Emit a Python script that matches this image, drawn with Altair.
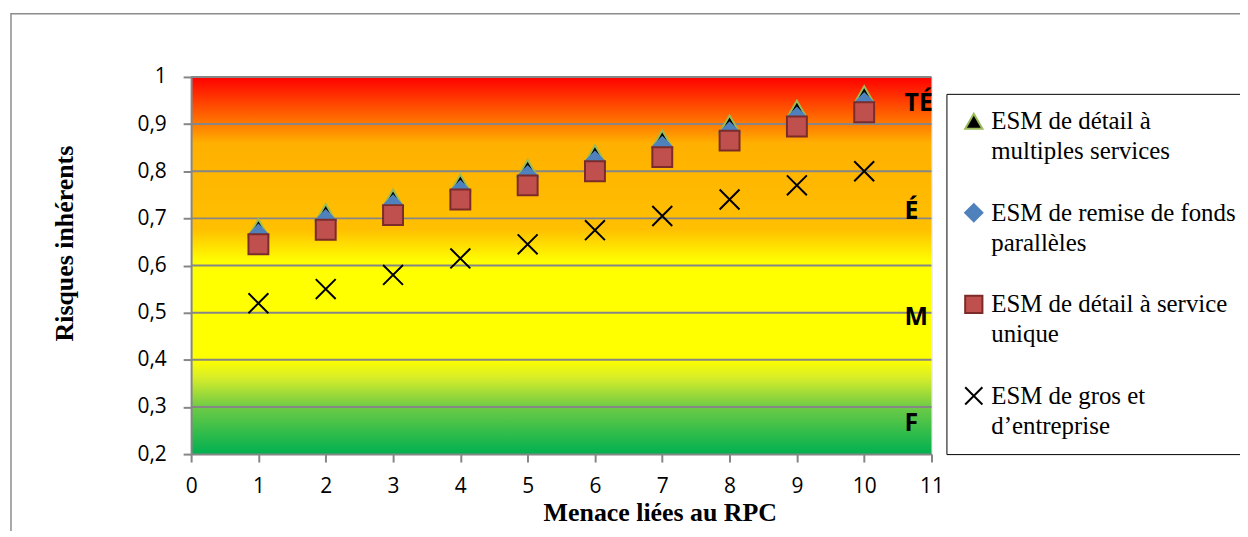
import altair as alt
import pandas as pd

# ---------------- data ----------------
x_vals = [1, 2, 3, 4, 5, 6, 7, 8, 9, 10]
series_names = [
    "ESM de détail à\nmultiples services",
    "ESM de remise de fonds\nparallèles",
    "ESM de détail à service\nunique",
    "ESM de gros et\nd’entreprise",
]
multi_services = [0.680, 0.712, 0.743, 0.775, 0.806, 0.837, 0.868, 0.900, 0.931, 0.962]
remise_fonds = [0.665, 0.696, 0.727, 0.758, 0.789, 0.820, 0.851, 0.882, 0.913, 0.944]
service_unique = [0.645, 0.676, 0.707, 0.740, 0.770, 0.800, 0.830, 0.865, 0.895, 0.925]
gros_entreprise = [0.520, 0.550, 0.580, 0.615, 0.645, 0.675, 0.705, 0.740, 0.770, 0.800]

x_ticks = [0, 1, 2, 3, 4, 5, 6, 7, 8, 9, 10, 11]
y_ticks = [0.2, 0.3, 0.4, 0.5, 0.6, 0.7, 0.8, 0.9, 1.0]
grid_values = [0.3, 0.4, 0.5, 0.6, 0.7, 0.8, 0.9, 1.0]

zone_labels = ["TÉ", "É", "M", "F"]
zone_y = [0.945, 0.715, 0.49, 0.265]
zone_x = [10.6, 10.6, 10.6, 10.6]

x_title = "Menace liées au RPC"
y_title = "Risques inhérents"

# ---------------- tables ----------------
rows = []
for idx, (name, vals) in enumerate(zip(series_names, [multi_services, remise_fonds, service_unique, gros_entreprise])):
    for xv, yv in zip(x_vals, vals):
        rows.append({"x": xv, "y": yv, "series": name, "idx": idx})
points_df = pd.DataFrame(rows)
grid_df = pd.DataFrame({"v": grid_values})
zones_df = pd.DataFrame({"label": zone_labels, "x": zone_x, "y": zone_y})

# ---------------- styles ----------------
GRAY = "#868686"
shape_range = ["triangle-up", "diamond", "square", "M-1,-1L1,1M-1,1L1,-1"]
fill_range = ["#000000", "#4F81BD", "#C0504D", "transparent"]
stroke_range = ["#9BBB59", "#4F81BD", "#7B2C2A", "#000000"]

gradient = alt.LinearGradient(
    gradient="linear",
    x1=0, x2=0, y1=0, y2=1,
    stops=[
        alt.GradientStop(offset=0.0, color="#FF0000"),
        alt.GradientStop(offset=0.125, color="#FF7A00"),
        alt.GradientStop(offset=0.175, color="#FFB000"),
        alt.GradientStop(offset=0.405, color="#FFC000"),
        alt.GradientStop(offset=0.49, color="#FFFF00"),
        alt.GradientStop(offset=0.75, color="#FFFF00"),
        alt.GradientStop(offset=0.80, color="#D4EC2A"),
        alt.GradientStop(offset=0.875, color="#6ECB45"),
        alt.GradientStop(offset=1.0, color="#00B050"),
    ],
)

x_scale = alt.Scale(domain=[0, 11], nice=False, zero=False)
y_scale = alt.Scale(domain=[0.2, 1.0], nice=False, zero=False)

x_axis = alt.Axis(
    values=x_ticks, format="d", grid=False, zindex=1,
    labelFont="Open Sans", labelFontSize=21, labelColor="black", labelPadding=14,
    labelFlush=False, labelOverlap=False,
    tickSize=8, tickColor=GRAY, tickWidth=2,
    domainColor=GRAY, domainWidth=2,
    title=x_title, titleFont="Liberation Serif", titleFontSize=26, titleFontWeight="bold",
    titleColor="black", titleX=471, titleY=67, titleAlign="center", titleBaseline="alphabetic",
)
y_axis = alt.Axis(
    values=y_ticks, grid=False, zindex=1,
    labelExpr="replace(format(datum.value, '.1~f'), '.', ',')",
    labelFont="Open Sans", labelFontSize=21, labelColor="black", labelPadding=17,
    labelFlush=False, labelOverlap=False,
    tickSize=8, tickColor=GRAY, tickWidth=2,
    domainColor=GRAY, domainWidth=2,
    title=y_title, titleFont="Liberation Serif", titleFontSize=26, titleFontWeight="bold",
    titleColor="black", titleX=-127, titleY=167, titleAngle=270,
    titleAlign="center", titleBaseline="middle",
)

legend = alt.Legend(
    title=None, orient="none", legendX=759, legendY=17,
    fillColor="white", strokeColor="black", padding=15,
    labelFont="Liberation Serif", labelFontSize=25, labelColor="black",
    labelExpr="split(datum.label, '\\n')", labelLimit=500, labelOffset=5,
    rowPadding=35, symbolSize=300, symbolStrokeWidth=2, labelBaseline="middle",
)

# ---------------- layers ----------------
frame = alt.Chart(alt.Data(values=[{}])).mark_rect(
    fillOpacity=0, stroke="#8C8C8C", strokeWidth=1.5
).encode(
    x=alt.value(-181), x2=alt.value(1400), y=alt.value(-63.5), y2=alt.value(900)
)

background = alt.Chart(alt.Data(values=[{}])).mark_rect(fill=gradient).encode(
    x=alt.value(0), x2=alt.value("width"), y=alt.value(0), y2=alt.value("height")
)

grid = alt.Chart(grid_df).mark_rule(color=GRAY, strokeWidth=2).encode(
    y=alt.Y("v:Q", scale=y_scale, axis=y_axis),
    x=alt.value(0), x2=alt.value("width"),
)

points = alt.Chart(points_df).mark_point(filled=True, size=400, strokeWidth=2, opacity=1).encode(
    x=alt.X("x:Q", scale=x_scale, axis=x_axis),
    y=alt.Y("y:Q", scale=y_scale, axis=y_axis),
    shape=alt.Shape("series:N", scale=alt.Scale(domain=series_names, range=shape_range), legend=legend),
    fill=alt.Fill("series:N", scale=alt.Scale(domain=series_names, range=fill_range), legend=legend),
    stroke=alt.Stroke("series:N", scale=alt.Scale(domain=series_names, range=stroke_range), legend=legend),
    order=alt.Order("idx:Q"),
)

zones = alt.Chart(zones_df).mark_text(
    align="left", baseline="middle", font="Open Sans", fontSize=25, fontWeight="bold", color="black"
).encode(
    x=alt.X("x:Q", scale=x_scale, axis=x_axis),
    y=alt.Y("y:Q", scale=y_scale, axis=y_axis),
    text="label:N",
)

chart = alt.layer(frame, background, grid, points, zones).properties(
    width=744, height=379,
    padding={"left": 184, "top": 68, "right": 310, "bottom": 76},
    autosize=alt.AutoSizeParams(type="none"),
    background="white",
).configure_view(strokeWidth=0).configure_legend(
    labelFont="Liberation Serif", labelFontSize=25, labelColor="black"
).configure(
    style={"guide-label": {"lineHeight": 30}}
)

chart.save("out.html", embed_options={"renderer": "svg", "actions": False})
